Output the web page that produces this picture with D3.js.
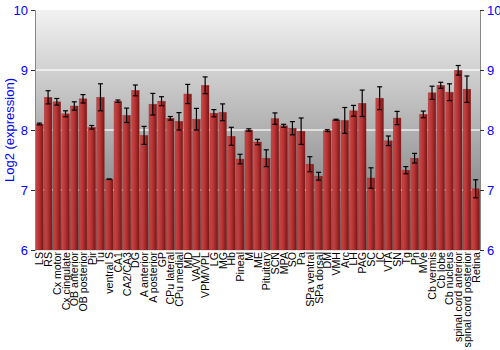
<!DOCTYPE html>
<html><head><meta charset="utf-8">
<script src="https://cdn.jsdelivr.net/npm/d3@7"></script>
<style>body{margin:0;background:#fff}svg{display:block}</style>
</head><body><svg id="c" width="500" height="350"></svg>
<script>
const categories = ["LS","RS","Cx motor","Cx cingulate","OB anterior","OB posterior","Pir","Tu","ventral S","CA1","CA2/CA3","DG","A anterior","A posterior","GP","CPu lateral","CPu medial","MD","VA/VL","VPM/VPL","LG","MG","Hb","Pineal","M","ME","Pituitary","SCN","MPA","SO","Pa","SPa ventral","SPa dorsal","DM","VMH","Arc","LH","PAG","SC","IC","VTA","SN","Tg","Pn","MVe","Cb vermis","Cb lobe","Cb nucleus","spinal cord anterior","spinal cord posterior","Retina"];
const values = [8.10,8.545,8.47,8.27,8.40,8.52,8.045,8.545,7.18,8.48,8.245,8.66,7.91,8.43,8.48,8.195,8.145,8.60,8.18,8.745,8.28,8.295,7.895,7.515,8.00,7.80,7.53,8.19,8.07,8.03,7.98,7.43,7.23,7.99,8.17,8.16,8.32,8.445,7.20,8.53,7.82,8.20,7.33,7.53,8.26,8.62,8.745,8.63,8.995,8.68,7.02];
const errors = [0.015,0.11,0.055,0.05,0.07,0.07,0.03,0.225,0.005,0.02,0.12,0.09,0.15,0.18,0.075,0.03,0.145,0.16,0.18,0.14,0.06,0.14,0.15,0.08,0.02,0.045,0.14,0.095,0.025,0.11,0.22,0.125,0.065,0.015,0.01,0.215,0.09,0.22,0.17,0.19,0.08,0.11,0.06,0.08,0.055,0.11,0.05,0.14,0.08,0.22,0.15];
const yTicks = [6,7,8,9,10];
const yLabel = "Log2 (expression)";

const svg = d3.select("#c");
const L=35, R=480, T=10, B=250;
const x = d3.scaleBand().domain(categories).range([L,R]).paddingInner(0.12).paddingOuter(0.06);
const y = d3.scaleLinear().domain([6,10]).range([B,T]);

const defs = svg.append("defs");
const bg = defs.append("linearGradient").attr("id","bg").attr("x1",0).attr("y1",0).attr("x2",0).attr("y2",1);
bg.append("stop").attr("offset","0%").attr("stop-color","#f2f2f2");
bg.append("stop").attr("offset","100%").attr("stop-color","#6e6e6e");
const bar = defs.append("linearGradient").attr("id","bar").attr("x1",0).attr("y1",0).attr("x2",1).attr("y2",0);
bar.append("stop").attr("offset","0%").attr("stop-color","#c84848");
bar.append("stop").attr("offset","45%").attr("stop-color","#b83434");
bar.append("stop").attr("offset","100%").attr("stop-color","#7a1616");

svg.append("rect").attr("x",L).attr("y",T).attr("width",R-L).attr("height",B-T).attr("fill","url(#bg)");

svg.append("g").selectAll("line").data(yTicks.filter(d=>d>6&&d<10)).join("line")
  .attr("x1",L).attr("x2",R).attr("y1",d=>y(d)).attr("y2",d=>y(d))
  .attr("stroke","#fff").attr("stroke-opacity",0.8).attr("stroke-width",1.5);

svg.append("g").selectAll("rect").data(categories).join("rect")
  .attr("x",d=>x(d)).attr("width",x.bandwidth())
  .attr("y",(d,i)=>y(values[i])).attr("height",(d,i)=>B-y(values[i]))
  .attr("fill","url(#bar)").attr("stroke","#8a2020").attr("stroke-width",0.5).attr("stroke-opacity",0.6);

const eb = svg.append("g").attr("stroke","#000").attr("stroke-width",1.2);
categories.forEach((c,i)=>{
  const cx = x(c)+x.bandwidth()/2;
  const y1=y(values[i]+errors[i]), y2=y(values[i]-errors[i]);
  eb.append("line").attr("x1",cx).attr("x2",cx).attr("y1",y1).attr("y2",y2);
  eb.append("line").attr("x1",cx-2.5).attr("x2",cx+2.5).attr("y1",y1).attr("y2",y1);
  eb.append("line").attr("x1",cx-2.5).attr("x2",cx+2.5).attr("y1",y2).attr("y2",y2);
});

const ax = d3.axisLeft(y).tickValues(yTicks).tickSize(4).tickPadding(3).tickFormat(d3.format("d"));
const gl = svg.append("g").attr("transform",`translate(${L},0)`).call(ax);
const ar = d3.axisRight(y).tickValues(yTicks).tickSize(4).tickPadding(3).tickFormat(d3.format("d"));
const gr = svg.append("g").attr("transform",`translate(${R},0)`).call(ar);
[gl,gr].forEach(g=>{
  g.select(".domain").attr("stroke","#888");
  g.selectAll(".tick line").attr("stroke","#333");
  g.selectAll("text").attr("fill","#0000ff").attr("font-family","Liberation Sans, Arial, sans-serif").attr("font-size",13);
});

svg.append("text").attr("transform",`translate(14,${(T+B)/2}) rotate(-90)`)
  .attr("text-anchor","middle").attr("fill","#0000ff")
  .attr("font-family","Liberation Sans, Arial, sans-serif").attr("font-size",13).text(yLabel);

svg.append("g").selectAll("text").data(categories).join("text")
  .attr("transform",d=>`translate(${x(d)+x.bandwidth()/2+4},${B+2}) rotate(-90)`)
  .attr("text-anchor","end").attr("font-family","Liberation Sans, Arial, sans-serif")
  .attr("font-size",10.6).attr("fill","#000").text(d=>d);
</script></body></html>
